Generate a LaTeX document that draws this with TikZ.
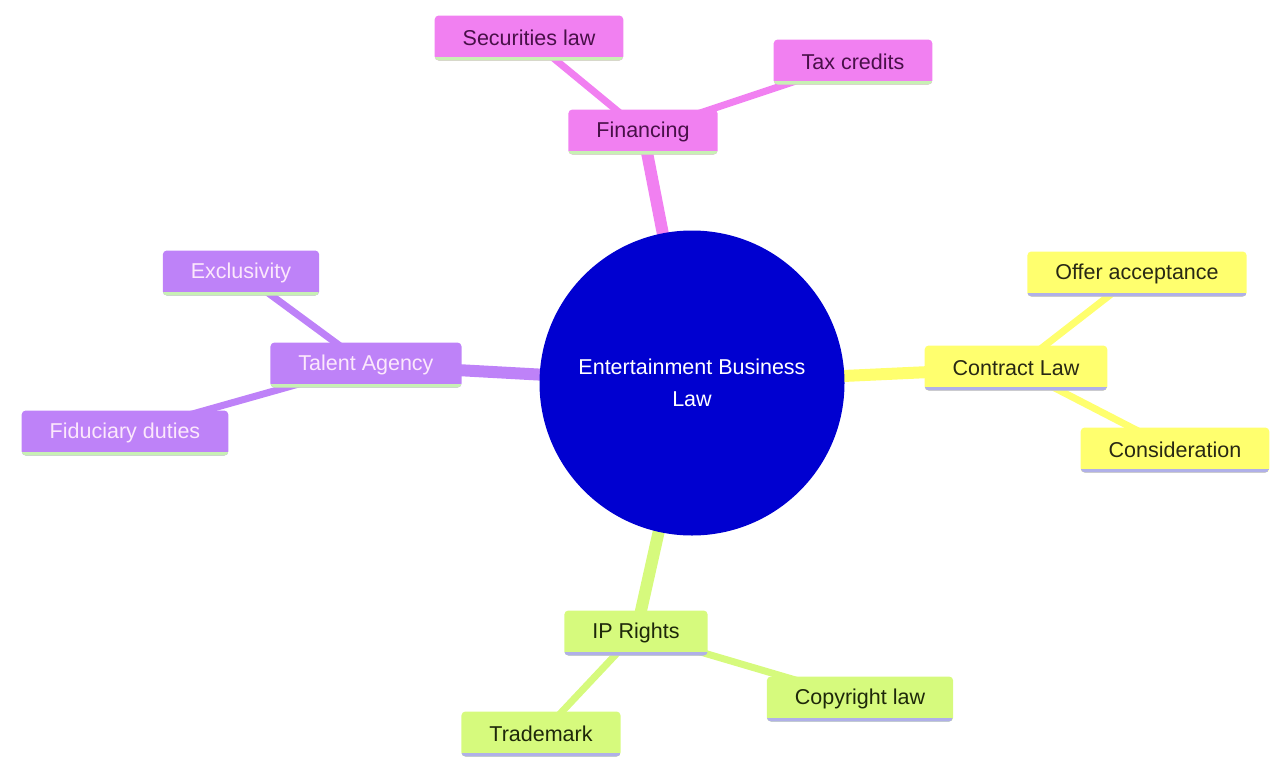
\documentclass[tikz,border=0pt]{standalone}
\usepackage{fontspec}
\setmainfont{Liberation Sans}
\usetikzlibrary{backgrounds}
\definecolor{magF}{RGB}{241,128,241}
\definecolor{magT}{RGB}{72,16,72}
\definecolor{vioF}{RGB}{190,130,248}
\definecolor{vioT}{RGB}{252,232,252}
\definecolor{yeF}{RGB}{255,255,110}
\definecolor{yeT}{RGB}{40,40,20}
\definecolor{grF}{RGB}{214,250,125}
\definecolor{grT}{RGB}{30,40,10}
\definecolor{lineA}{RGB}{200,240,180}
\definecolor{lineB}{RGB}{176,176,232}
\definecolor{rootF}{RGB}{0,0,208}
\tikzset{
	box/.style={rounded corners=4pt, minimum height=45pt, inner xsep=28pt,
		font=\fontsize{21.5}{26}\selectfont},
	under/.style={path picture={\draw[line width=7pt, #1]
		(path picture bounding box.south west) -- (path picture bounding box.south east);}},
	mag/.style={box, fill=magF, text=magT, under=lineA},
	vio/.style={box, fill=vioF, text=vioT, under=lineA},
	ye/.style={box, fill=yeF, text=yeT, under=lineB},
	gr/.style={box, fill=grF, text=grT, under=lineB},
	trunk/.style={line width=12pt},
	twig/.style={line width=7pt},
}
\begin{document}
\begin{tikzpicture}[x=1pt, y=-1pt]
	\useasboundingbox (0,0) rectangle (1272,763);

	\node[circle, fill=rootF, minimum size=305pt, text=white, align=center,
		font=\fontsize{21.5}{32}\selectfont] (root) at (692,383) {Entertainment Business\\Law};

	\node[mag] (fin) at (643,132) {Financing};
	\node[mag] (sec) at (529,38) {Securities law};
	\node[mag] (tax) at (853,62) {Tax credits};

	\node[vio] (tal) at (366,365) {Talent Agency};
	\node[vio] (exc) at (241,273) {Exclusivity};
	\node[vio] (fid) at (125,433) {Fiduciary duties};

	\node[ye] (con) at (1016,368) {Contract Law};
	\node[ye] (off) at (1137,274) {Offer acceptance};
	\node[ye] (cns) at (1175,450) {Consideration};

	\node[gr] (ipr) at (636,633) {IP Rights};
	\node[gr] (cop) at (860,699) {Copyright law};
	\node[gr] (trm) at (541,734) {Trademark};

	\begin{scope}[on background layer]
		\draw[trunk, magF] (root.center) -- (fin.center);
		\draw[trunk, vioF] (root.center) -- (tal.center);
		\draw[trunk, yeF] (root.center) -- (con.center);
		\draw[trunk, grF] (root.center) -- (ipr.center);

		\draw[twig, magF] (fin.center) -- (sec.center);
		\draw[twig, magF] (fin.center) -- (tax.center);
		\draw[twig, vioF] (tal.center) -- (exc.center);
		\draw[twig, vioF] (tal.center) -- (fid.center);
		\draw[twig, yeF] (con.center) -- (off.center);
		\draw[twig, yeF] (con.center) -- (cns.center);
		\draw[twig, grF] (ipr.center) -- (cop.center);
		\draw[twig, grF] (ipr.center) -- (trm.center);
	\end{scope}
\end{tikzpicture}
\end{document}
